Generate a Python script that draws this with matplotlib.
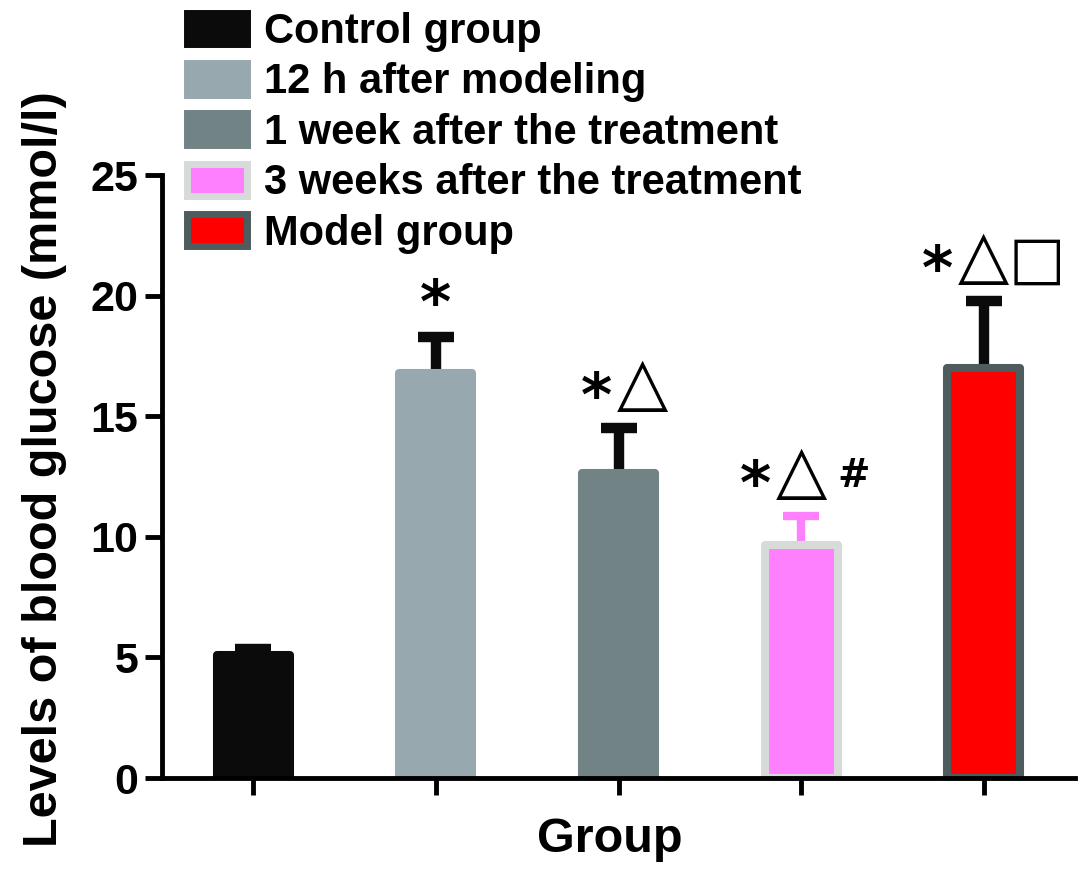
import numpy as np
import matplotlib
matplotlib.use('Agg')
import matplotlib.pyplot as plt
from matplotlib.patches import Patch

plt.rcParams['font.family'] = ['Liberation Sans', 'DejaVu Sans']
plt.rcParams['font.weight'] = 'bold'

# data
groups = ['Control group', '12 h after modeling', '1 week after the treatment',
          '3 weeks after the treatment', 'Model group']
means = [5.1, 16.8, 12.65, 9.68, 16.98]
errs = [0.25, 1.5, 1.85, 1.2, 2.8]
marks = ['', '*', '*\u25b3', '*\u25b3#', '*\u25b3\u25a1']

faces = ['#0b0b0b', '#97a8ae', '#728385', '#ff80ff', '#ff0000']
edges = ['#0b0b0b', '#97a8ae', '#728385', '#d6dbd9', '#4e5c5d']
ecols = ['#0b0b0b', '#0b0b0b', '#0b0b0b', '#ff80ff', '#0b0b0b']

# glyph look for the significance marks: size, weight, baseline lift (px)
glyph = {'*': (43, 'bold', 12), '\u25b3': (48, 'normal', 24),
         '\u25a1': (43, 'normal', 23), '#': (28, 'bold', 29)}
# horizontal place of each glyph (px), relative to the triangle
slot = [-46, 0, 53]
px = 72 / 100.0

fig = plt.figure(figsize=(10.87, 8.81), dpi=100)
ax = fig.add_axes([162/1087, 1-778/881, (1075-162)/1087, (778-175)/881])

x = np.arange(len(groups))
for i in range(len(groups)):
    lw = 6 if i == 3 else 7.5
    eb = ax.errorbar(x[i], means[i], yerr=[[0], [errs[i]]], fmt='none', ecolor=ecols[i],
                     elinewidth=lw, capsize=13, capthick=lw, zorder=1)
    for cap in eb[1]:
        if cap.get_ydata()[0] <= means[i]:
            cap.set_visible(False)
    m = marks[i]
    shift = {1: 46, 2: 24, 3: 0}.get(len(m), 0)
    for k, ch in enumerate(m):
        size, weight, lift = glyph[ch]
        if len(m) == 1:
            lift += 2
        dx = slot[k] + shift
        ax.annotate(ch, xy=(x[i], means[i]+errs[i]), xytext=(dx*px, lift*px),
                    textcoords='offset points', ha='center', va='baseline',
                    fontsize=size, family=['DejaVu Sans'], fontweight=weight, zorder=4)
ax.bar(x, means, width=0.40, color=faces, edgecolor=edges, linewidth=5.8,
       joinstyle='round', zorder=2)

ax.set_xlim(-0.5, 4.5)
ax.set_ylim(0, 25)
ax.set_yticks([0, 5, 10, 15, 20, 25])
ax.set_xticks(x)
ax.set_xticklabels([])
for s in ['top', 'right']:
    ax.spines[s].set_visible(False)
for s in ['left', 'bottom']:
    ax.spines[s].set_linewidth(3.5)
ax.tick_params(axis='y', length=12, width=3.5, labelsize=31, pad=5)
ax.tick_params(axis='x', length=12, width=3.5)

ax.set_ylabel('Levels of blood glucose (mmol/l)', fontsize=35, fontweight='bold')
ax.yaxis.set_label_coords(-0.104, 0.513)
ax.set_xlabel('Group', fontsize=35, fontweight='bold')
ax.xaxis.set_label_coords(0.49, -0.065)

handles = [Patch(facecolor=faces[i], edgecolor=edges[i], linewidth=5, joinstyle='round')
           for i in range(len(groups))]
fig.legend(handles, groups, loc='upper left', bbox_to_anchor=(187/1087, 1-12/881),
           frameon=False, fontsize=30, handlelength=1.45, handleheight=0.8,
           handletextpad=0.4, labelspacing=0.25, borderpad=0, borderaxespad=0)

fig.savefig('out.png', dpi=100)
